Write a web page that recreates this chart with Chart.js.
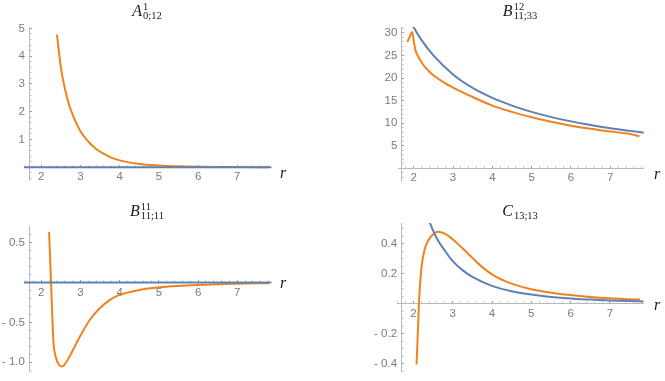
<!DOCTYPE html>
<html>
<head>
<meta charset="utf-8">
<script src="https://cdn.jsdelivr.net/npm/chart.js@4.4.1/dist/chart.umd.min.js"></script>
<style>
  html, body { margin: 0; padding: 0; background: #fff; }
  #wrap { position: relative; width: 665px; height: 381px; overflow: hidden; background: #fff; }
  canvas { position: absolute; }
  .title { position: absolute; transform: translateX(-50%); font-family: "Liberation Serif", "DejaVu Serif", serif; white-space: nowrap; display: flex; align-items: center; color: #1a1a1a; }
  .title i { font-size: 16px; line-height: 16px; }
  .scripts { display: inline-flex; flex-direction: column; font-size: 10.5px; line-height: 9px; margin-left: 1px; }
  .rlab { position: absolute; font-family: "Liberation Serif", "DejaVu Serif", serif; font-style: italic; font-size: 16px; line-height: 16px; transform: translate(-50%, -60%); color: #1a1a1a; }
</style>
</head>
<body>
<div id="wrap">
  <canvas id="cA" width="332" height="190" style="left:0;top:0"></canvas>
  <canvas id="cB" width="333" height="190" style="left:332px;top:0"></canvas>
  <canvas id="cC" width="332" height="191" style="left:0;top:190px"></canvas>
  <canvas id="cD" width="333" height="191" style="left:332px;top:190px"></canvas>

  <div class="title" style="left:147px;top:2px"><i>A</i><span class="scripts"><span>1</span><span>0;12</span></span></div>
  <div class="title" style="left:520px;top:2px"><i>B</i><span class="scripts"><span>12</span><span>11;33</span></span></div>
  <div class="title" style="left:147px;top:202px"><i>B</i><span class="scripts"><span>11</span><span>11;11</span></span></div>
  <div class="title" style="left:520px;top:202px"><i>C</i><span class="scripts"><span>&nbsp;</span><span>13;13</span></span></div>

  <div class="rlab" style="left:283px;top:175px">r</div>
  <div class="rlab" style="left:657px;top:176px">r</div>
  <div class="rlab" style="left:283px;top:285px">r</div>
  <div class="rlab" style="left:657px;top:307px">r</div>
</div>

<script>
// A^1_{0;12}
const aR = [2.4, 2.5, 2.6, 2.7, 2.8, 3.0, 3.2, 3.4, 3.6, 3.8, 4.0, 4.5, 5.0, 5.5, 6.0, 6.5, 7.0, 7.5, 7.8];
const aOrange = [4.78, 3.6, 2.85, 2.3, 1.9, 1.3, 0.93, 0.66, 0.48, 0.34, 0.25, 0.12, 0.065, 0.035, 0.02, 0.012, 0.007, 0.004, 0.003];
const aZeroR = [1.56, 7.86];
const aBlue = [0, 0];

// B^12_{11;33}
const bBlueR = [1.93, 2.0, 2.2, 2.5, 3.0, 3.5, 4.0, 4.5, 5.0, 5.5, 6.0, 6.5, 7.0, 7.5, 7.86];
const bBlue = [32.3, 31.2, 28.4, 25.0, 20.8, 17.8, 15.6, 13.9, 12.5, 11.35, 10.4, 9.6, 8.9, 8.3, 7.9];
const bOrangeR = [1.84, 1.9, 1.96, 2.0, 2.05, 2.1, 2.2, 2.3, 2.4, 2.5, 2.75, 3.0, 3.5, 4.0, 4.5, 5.0, 5.5, 6.0, 6.5, 7.0, 7.5, 7.74];
const bOrange = [28.0, 29.2, 30.2, 28.2, 26.0, 25.0, 23.5, 22.3, 21.4, 20.6, 19.1, 17.9, 15.8, 13.9, 12.5, 11.3, 10.3, 9.45, 8.75, 8.15, 7.6, 7.1];

// B^11_{11;11}
const cR = [2.2, 2.25, 2.31, 2.38, 2.44, 2.53, 2.61, 2.74, 3.0, 3.25, 3.5, 3.76, 4.0, 4.5, 5.0, 5.5, 6.0, 6.5, 7.0, 7.5, 7.8];
const cOrange = [0.635, 0.0, -0.73, -0.95, -1.02, -1.053, -1.02, -0.91, -0.665, -0.46, -0.32, -0.215, -0.155, -0.093, -0.06, -0.042, -0.03, -0.021, -0.015, -0.01, -0.008];
const cZeroR = [1.56, 7.86];
const cBlue = [0, 0];

// C_{13;13}
const dBlueR = [2.41, 2.5, 2.6, 2.8, 3.0, 3.25, 3.5, 4.0, 4.5, 5.0, 5.5, 6.0, 6.5, 7.0, 7.5, 7.86];
const dBlue = [0.546, 0.49, 0.435, 0.355, 0.285, 0.225, 0.18, 0.12, 0.084, 0.062, 0.046, 0.035, 0.028, 0.022, 0.018, 0.016];
const dOrangeR = [2.08, 2.12, 2.14, 2.2, 2.29, 2.37, 2.5, 2.61, 2.8, 3.05, 3.39, 3.73, 4.07, 4.5, 5.0, 5.5, 6.0, 6.5, 7.0, 7.5, 7.77];
const dOrange = [-0.406, -0.14, 0.0, 0.228, 0.368, 0.42, 0.465, 0.482, 0.469, 0.42, 0.335, 0.25, 0.185, 0.135, 0.097, 0.074, 0.058, 0.046, 0.037, 0.031, 0.028];

const ORANGE = '#F0821E';
const BLUE = '#5E81B5';
const AXIS = '#b8b8b8';
const TICKTEXT = '#7a7a7a';

function pts(xs, ys) {
    return xs.map((x, i) => ({ x: x, y: ys[i] }));
}

function isMultiple(v, step) {
    const q = v / step;
    return Math.abs(q - Math.round(q)) < 1e-6;
}

// Mathematica style labels: "- 0.5", no label at the origin
function fmt(v, decimals) {
    const s = Math.abs(v).toFixed(decimals);
    return v < -1e-9 ? '- ' + s : s;
}

function line(xs, ys, color) {
    return {
        data: pts(xs, ys),
        borderColor: color,
        borderWidth: 2,
        pointRadius: 0,
        fill: false,
        cubicInterpolationMode: 'monotone'
    };
}

// Function to build one of the four panels
function makePanel(id, datasets, xr, yr, yStep, yMajor, yDec, padding) {
    new Chart(document.getElementById(id), {
        type: 'line',
        data: { datasets: datasets },
        options: {
            responsive: false,
            animation: false,
            devicePixelRatio: 1,
            layout: { padding: padding },
            plugins: { legend: { display: false }, tooltip: { enabled: false } },
            scales: {
                x: {
                    type: 'linear',
                    min: xr[0],
                    max: xr[1],
                    position: { y: 0 },
                    border: { color: AXIS, width: 1 },
                    grid: {
                        drawOnChartArea: false,
                        tickLength: -3,
                        tickColor: ctx => isMultiple(ctx.tick.value, 1) ? '#9a9a9a' : '#cfcfcf'
                    },
                    ticks: {
                        stepSize: 0.2,
                        includeBounds: false,
                        autoSkip: false,
                        maxRotation: 0,
                        padding: 6,
                        color: TICKTEXT,
                        font: { family: 'Liberation Sans', size: 11.5 },
                        callback: v => isMultiple(v, 1) ? String(Math.round(v)) : ''
                    }
                },
                y: {
                    type: 'linear',
                    min: yr[0],
                    max: yr[1],
                    position: { x: 1.7 },
                    border: { color: AXIS, width: 1 },
                    grid: {
                        drawOnChartArea: false,
                        tickLength: -3,
                        tickColor: ctx => isMultiple(ctx.tick.value, yMajor) ? '#9a9a9a' : '#cfcfcf'
                    },
                    ticks: {
                        stepSize: yStep,
                        includeBounds: false,
                        autoSkip: false,
                        color: TICKTEXT,
                        font: { family: 'Liberation Sans', size: 11.5 },
                        callback: v => (isMultiple(v, yMajor) && Math.abs(v) > 1e-9) ? fmt(v, yDec) + '\u2009\u2009' : ''
                    }
                }
            }
        }
    });
}

makePanel('cA',
    [line(aZeroR, aBlue, BLUE), line(aR, aOrange, ORANGE)],
    [1.56, 7.86], [-0.46, 5.05], 0.2, 1, 0,
    { left: 24, right: 61, top: 27, bottom: 1 });

makePanel('cB',
    [line(bBlueR, bBlue, BLUE), line(bOrangeR, bOrange, ORANGE)],
    [1.618, 7.85], [-2.6, 31.3], 1, 5, 0,
    { left: 66.7, right: 21.3, top: 27, bottom: 1 });

makePanel('cC',
    [line(cZeroR, cBlue, BLUE), line(cR, cOrange, ORANGE)],
    [1.56, 7.86], [-1.11, 0.70], 0.1, 0.5, 1,
    { left: 24, right: 61, top: 36.7, bottom: 6 });

makePanel('cD',
    [line(dBlueR, dBlue, BLUE), line(dOrangeR, dOrange, ORANGE)],
    [1.6, 7.86], [-0.45, 0.54], 0.05, 0.2, 1,
    { left: 65.7, right: 21.3, top: 33, bottom: 4.3 });
</script>
</body>
</html>
